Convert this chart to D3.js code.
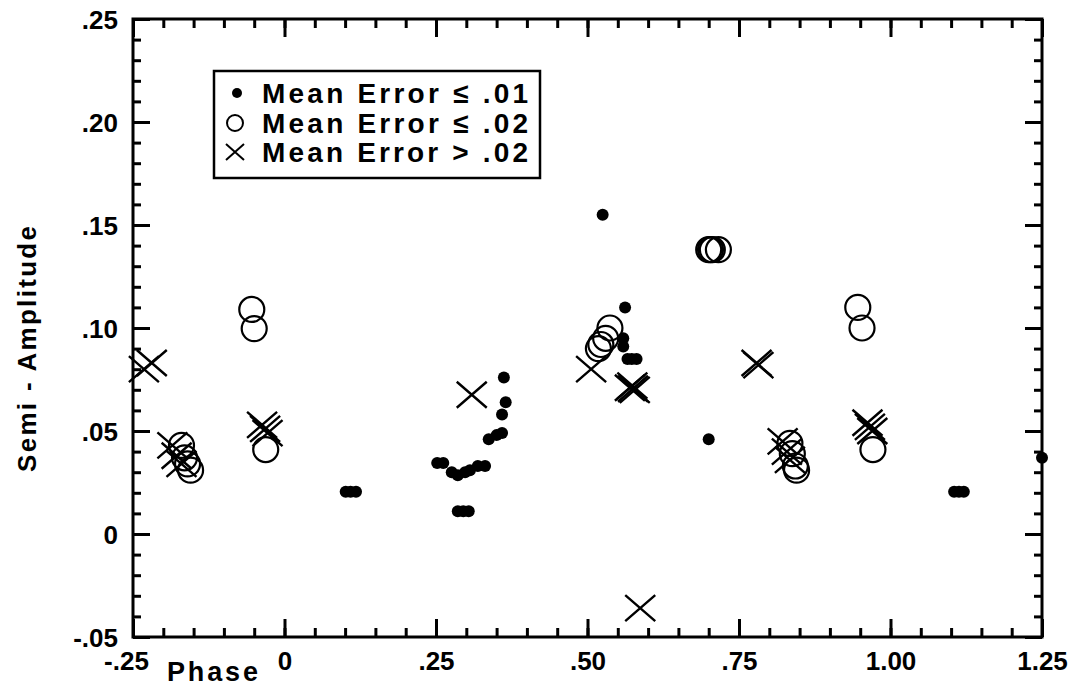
<!DOCTYPE html>
<html>
<head>
<meta charset="utf-8">
<script src="https://cdn.jsdelivr.net/npm/d3@7"></script>
<style>
  body { margin: 0; background: #fff; }
  svg text { font-family: "Liberation Sans", Arial, Helvetica, sans-serif; font-weight: bold; fill: #000; }
</style>
</head>
<body>
<svg id="chart" width="1071" height="687"></svg>
<script>
// Mean Error <= .01  (filled dots)
var dotPhase = [0.525, 0.562, 0.559, 0.559, 0.566, 0.573, 0.581,
  0.362, 0.365, 0.359, 0.337, 0.350, 0.359,
  0.252, 0.262, 0.276, 0.286, 0.298, 0.306, 0.319, 0.331,
  0.286, 0.295, 0.304, 0.101, 0.109, 0.118,
  0.700, 1.105, 1.113, 1.121, 1.250];
var dotAmp = [0.155, 0.110, 0.095, 0.091, 0.085, 0.085, 0.085,
  0.076, 0.064, 0.058, 0.046, 0.048, 0.049,
  0.0345, 0.0345, 0.030, 0.0285, 0.030, 0.031, 0.033, 0.033,
  0.011, 0.011, 0.011, 0.0205, 0.0205, 0.0205,
  0.046, 0.0205, 0.0205, 0.0205, 0.037];

// Mean Error <= .02  (open circles)
var circPhase = [-0.054, -0.050, -0.031, -0.170, -0.165, -0.160, -0.155,
  0.537, 0.530, 0.522, 0.518, 0.700, 0.703, 0.706, 0.716,
  0.834, 0.838, 0.843, 0.845, 0.946, 0.953, 0.971];
var circAmp = [0.109, 0.0997, 0.041, 0.043, 0.037, 0.034, 0.031,
  0.100, 0.095, 0.092, 0.090, 0.138, 0.138, 0.138, 0.138,
  0.044, 0.039, 0.033, 0.031, 0.110, 0.100, 0.041];

// Mean Error > .02  (crosses)
var crossPhase = [-0.219, -0.232, -0.185, -0.178, -0.170, -0.037, -0.032, -0.028,
  0.309, 0.506, 0.570, 0.574, 0.578, 0.575, 0.587, 0.779, 0.782,
  0.822, 0.829, 0.834, 0.962, 0.966, 0.970];
var crossAmp = [0.083, 0.080, 0.043, 0.038, 0.034, 0.053, 0.051, 0.049,
  0.0676, 0.080, 0.071, 0.072, 0.070, 0.0705, -0.036, 0.083, 0.082,
  0.045, 0.040, 0.036, 0.054, 0.052, 0.050];

var xMajor = [-0.25, 0, 0.25, 0.5, 0.75, 1.0, 1.25];
var xLabels = ["-.25", "0", ".25", ".50", ".75", "1.00", "1.25"];
var yMajor = [-0.05, 0, 0.05, 0.10, 0.15, 0.20, 0.25];
var yLabels = ["-.05", "0", ".05", ".10", ".15", ".20", ".25"];
var legendLabels = ["Mean Error \u2264 .01", "Mean Error \u2264 .02", "Mean Error > .02"];

var svg = d3.select("#chart");
// plot frame edges (pixels)
var plotL = 133, plotR = 1042, plotT = 19, plotB = 637;

var x = d3.scaleLinear().domain([-0.25, 1.25]).range([plotL, plotR]);
var y = d3.scaleLinear().domain([-0.05, 0.25]).range([plotB, plotT]);

var xMinor = d3.range(-0.25, 1.2501, 0.05);
var yMinor = d3.range(-0.05, 0.2501, 0.01);

function styleAxis(g) {
  g.select(".domain").remove();
  g.selectAll("line").attr("stroke", "#000").attr("stroke-width", 3);
}

// minor ticks, all four sides, pointing in
svg.append("g").attr("transform", "translate(0," + plotB + ")")
  .call(d3.axisBottom(x).tickValues(xMinor).tickSize(-9).tickFormat(""))
  .call(styleAxis);
svg.append("g").attr("transform", "translate(0," + plotT + ")")
  .call(d3.axisTop(x).tickValues(xMinor).tickSize(-9).tickFormat(""))
  .call(styleAxis);
svg.append("g").attr("transform", "translate(" + plotL + ",0)")
  .call(d3.axisLeft(y).tickValues(yMinor).tickSize(-8).tickFormat(""))
  .call(styleAxis);
svg.append("g").attr("transform", "translate(" + plotR + ",0)")
  .call(d3.axisRight(y).tickValues(yMinor).tickSize(-8).tickFormat(""))
  .call(styleAxis);

// major ticks + labels
var xb = svg.append("g").attr("transform", "translate(0," + plotB + ")")
  .call(d3.axisBottom(x).tickValues(xMajor).tickSize(-18).tickPadding(0)
    .tickFormat(function(d, i) { return xLabels[i]; }))
  .call(styleAxis);
xb.selectAll("text").attr("y", 33).attr("dy", 0).style("font-size", "26px");
xb.selectAll("text").filter(function(d) { return d === -0.25; }).attr("dx", -7);

svg.append("g").attr("transform", "translate(0," + plotT + ")")
  .call(d3.axisTop(x).tickValues(xMajor).tickSize(-18).tickFormat(""))
  .call(styleAxis);

var yl = svg.append("g").attr("transform", "translate(" + plotL + ",0)")
  .call(d3.axisLeft(y).tickValues(yMajor).tickSize(-17).tickPadding(15)
    .tickFormat(function(d, i) { return yLabels[i]; }))
  .call(styleAxis);
yl.selectAll("text").attr("x", -15).attr("dy", "0.36em").style("font-size", "26px");

svg.append("g").attr("transform", "translate(" + plotR + ",0)")
  .call(d3.axisRight(y).tickValues(yMajor).tickSize(-17).tickFormat(""))
  .call(styleAxis);

// frame
svg.append("rect")
  .attr("x", plotL).attr("y", plotT)
  .attr("width", plotR - plotL).attr("height", plotB - plotT)
  .attr("fill", "none").attr("stroke", "#000").attr("stroke-width", 3);

// axis titles
svg.append("text")
  .attr("x", 167).attr("y", 681)
  .attr("textLength", 91).attr("lengthAdjust", "spacing")
  .style("font-size", "27px")
  .text("Phase");

svg.append("text")
  .attr("transform", "translate(36,349) rotate(-90)")
  .attr("text-anchor", "middle")
  .attr("textLength", 246).attr("lengthAdjust", "spacing")
  .style("font-size", "26px")
  .text("Semi - Amplitude");

// markers
function crossPath(hw, hh) {
  return "M" + (-hw) + "," + (-hh) + "L" + hw + "," + hh +
         "M" + (-hw) + "," + hh + "L" + hw + "," + (-hh);
}

var plot = svg.append("g");

plot.selectAll("circle.open")
  .data(circPhase.map(function(p, i) { return [p, circAmp[i]]; }))
  .enter().append("circle")
  .attr("class", "open")
  .attr("cx", function(d) { return x(d[0]); })
  .attr("cy", function(d) { return y(d[1]); })
  .attr("r", 12.5)
  .attr("fill", "none").attr("stroke", "#000").attr("stroke-width", 2.2);

plot.selectAll("path.cross")
  .data(crossPhase.map(function(p, i) { return [p, crossAmp[i]]; }))
  .enter().append("path")
  .attr("class", "cross")
  .attr("transform", function(d) { return "translate(" + x(d[0]) + "," + y(d[1]) + ")"; })
  .attr("d", crossPath(15, 13))
  .attr("fill", "none").attr("stroke", "#000").attr("stroke-width", 2.4);

plot.selectAll("circle.dot")
  .data(dotPhase.map(function(p, i) { return [p, dotAmp[i]]; }))
  .enter().append("circle")
  .attr("class", "dot")
  .attr("cx", function(d) { return x(d[0]); })
  .attr("cy", function(d) { return y(d[1]); })
  .attr("r", 6)
  .attr("fill", "#000");

// legend
var lg = svg.append("g");
lg.append("rect")
  .attr("x", 214).attr("y", 71).attr("width", 326).attr("height", 107)
  .attr("fill", "#fff").attr("stroke", "#000").attr("stroke-width", 2.5);

var rowY = [93, 123, 152];
lg.append("circle").attr("cx", 237).attr("cy", rowY[0]).attr("r", 5).attr("fill", "#000");
lg.append("circle").attr("cx", 235).attr("cy", rowY[1]).attr("r", 8)
  .attr("fill", "none").attr("stroke", "#000").attr("stroke-width", 2);
lg.append("path").attr("transform", "translate(235," + rowY[2] + ")")
  .attr("d", crossPath(9, 8)).attr("fill", "none").attr("stroke", "#000").attr("stroke-width", 2);

lg.selectAll("text.leg")
  .data(legendLabels)
  .enter().append("text")
  .attr("class", "leg")
  .attr("x", 262)
  .attr("y", function(d, i) { return rowY[i] + 10; })
  .attr("textLength", 266).attr("lengthAdjust", "spacing")
  .style("font-size", "28px")
  .text(function(d) { return d; });
</script>
</body>
</html>
